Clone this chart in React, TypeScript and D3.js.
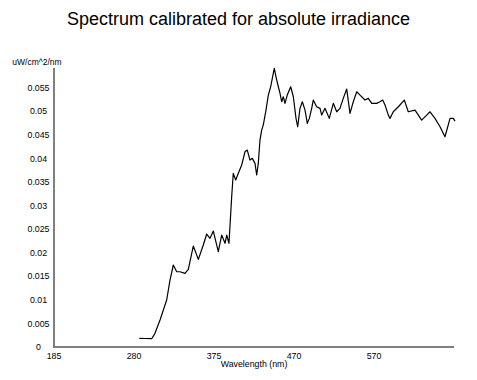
import React from "react";
import * as d3 from "d3";

const wavelengths = [286.3, 293.1, 301.0, 304.9, 310.9, 318.8, 322.75, 326.7, 330.7, 334.6, 340.6, 344.5, 350.4, 356.4, 362.3, 366.3, 370.25, 374.2, 380.1, 384.1, 388.1, 390.1, 392.8, 396.0, 397.9, 400.8, 403.9, 407.9, 411.8, 414.5, 417.75, 420.5, 423.7, 425.7, 427.6, 429.6, 431.6, 433.5, 436.75, 439.5, 442.3, 445.4, 446.6, 448.6, 451.4, 453.4, 455.4, 457.3, 459.3, 462.0, 466.1, 469.2, 472.4, 474.4, 477.1, 479.9, 483.1, 485.8, 488.2, 491.0, 492.9, 496.9, 500.9, 502.9, 506.8, 511.9, 516.7, 520.7, 524.6, 528.5, 532.6, 536.5, 540.4, 544.5, 548.4, 554.3, 558.2, 562.3, 568.2, 572.1, 575.3, 578.1, 582.0, 584.0, 587.9, 593.9, 601.0, 605.7, 613.7, 621.6, 627.6, 631.5, 637.4, 643.4, 649.3, 655.3, 659.2, 661.2];
const irradiance = [0.00185, 0.0018, 0.00176, 0.0029, 0.00573, 0.00997, 0.01421, 0.0174, 0.01597, 0.01597, 0.01563, 0.01648, 0.02143, 0.0186, 0.02164, 0.02397, 0.02306, 0.02461, 0.02022, 0.02376, 0.022, 0.02376, 0.022, 0.03189, 0.03685, 0.03543, 0.03685, 0.03861, 0.04143, 0.04179, 0.03967, 0.04003, 0.03897, 0.03649, 0.03897, 0.04391, 0.04603, 0.04709, 0.05027, 0.05346, 0.05522, 0.05806, 0.05912, 0.05734, 0.05522, 0.05382, 0.05204, 0.0531, 0.0517, 0.05346, 0.05522, 0.0531, 0.04851, 0.04673, 0.05064, 0.05204, 0.05027, 0.04745, 0.04851, 0.05064, 0.0524, 0.05098, 0.05064, 0.04921, 0.05064, 0.04851, 0.0517, 0.04991, 0.05064, 0.05276, 0.05473, 0.04957, 0.05204, 0.05416, 0.05346, 0.0524, 0.05276, 0.0517, 0.0517, 0.05204, 0.0524, 0.05134, 0.04921, 0.04851, 0.04991, 0.05098, 0.0524, 0.04991, 0.05027, 0.04815, 0.04921, 0.04991, 0.04851, 0.04673, 0.04461, 0.04851, 0.04851, 0.04794];

const xTickValues = [185, 280, 375, 470, 565];
const xTickLabels = ["185", "280", "375", "470", "570"];
const yTickValues = [0, 0.005, 0.01, 0.015, 0.02, 0.025, 0.03, 0.035, 0.04, 0.045, 0.05, 0.055];
const yTickLabels = ["0", "0.005", "0.01", "0.015", "0.02", "0.025", "0.03", "0.035", "0.04", "0.045", "0.05", "0.055"];

const title = "Spectrum calibrated for absolute irradiance";
const xTitle = "Wavelength (nm)";
const yTitle = "uW/cm^2/nm";

export default function App() {
  const W = 477, H = 380;
  const x = d3.scaleLinear().domain([185, 660]).range([54, 454]);
  const y = d3.scaleLinear().domain([0, 0.0592]).range([347, 68]);
  const pts = wavelengths.map((w, i) => [w, irradiance[i]] as [number, number]);
  const line = d3.line<[number, number]>().x(d => x(d[0])).y(d => y(d[1]));
  const font = "Arial, 'Liberation Sans', sans-serif";
  return (
    <svg width={W} height={H} style={{ position: "absolute", left: 0, top: 0, background: "#fff" }} fontFamily={font}>
      <text x={238.5} y={25} textAnchor="middle" fontSize={18} fill="#000">{title}</text>
      <text x={37} y={64.5} textAnchor="middle" fontSize={8.5} fill="#000">{yTitle}</text>
      <line x1={54} x2={54} y1={y(0.0592)} y2={y(0)} stroke="#808080" strokeWidth={2} />
      <line x1={53} x2={454} y1={y(0)} y2={y(0)} stroke="#808080" strokeWidth={2} />
      {yTickValues.map((v, i) => (
        <text key={"y" + i} x={38.5} y={y(v)} dy="0.35em" textAnchor="middle" fontSize={8.8} fill="#000">{yTickLabels[i]}</text>
      ))}
      {xTickValues.map((v, i) => (
        <text key={"x" + i} x={x(v)} y={356} dy="0.35em" textAnchor="middle" fontSize={8.8} fill="#000">{xTickLabels[i]}</text>
      ))}
      <text x={254} y={364} dy="0.35em" textAnchor="middle" fontSize={8.8} fill="#000">{xTitle}</text>
      <path d={line(pts) || ""} fill="none" stroke="#000" strokeWidth={1.2} strokeLinejoin="round" />
    </svg>
  );
}
